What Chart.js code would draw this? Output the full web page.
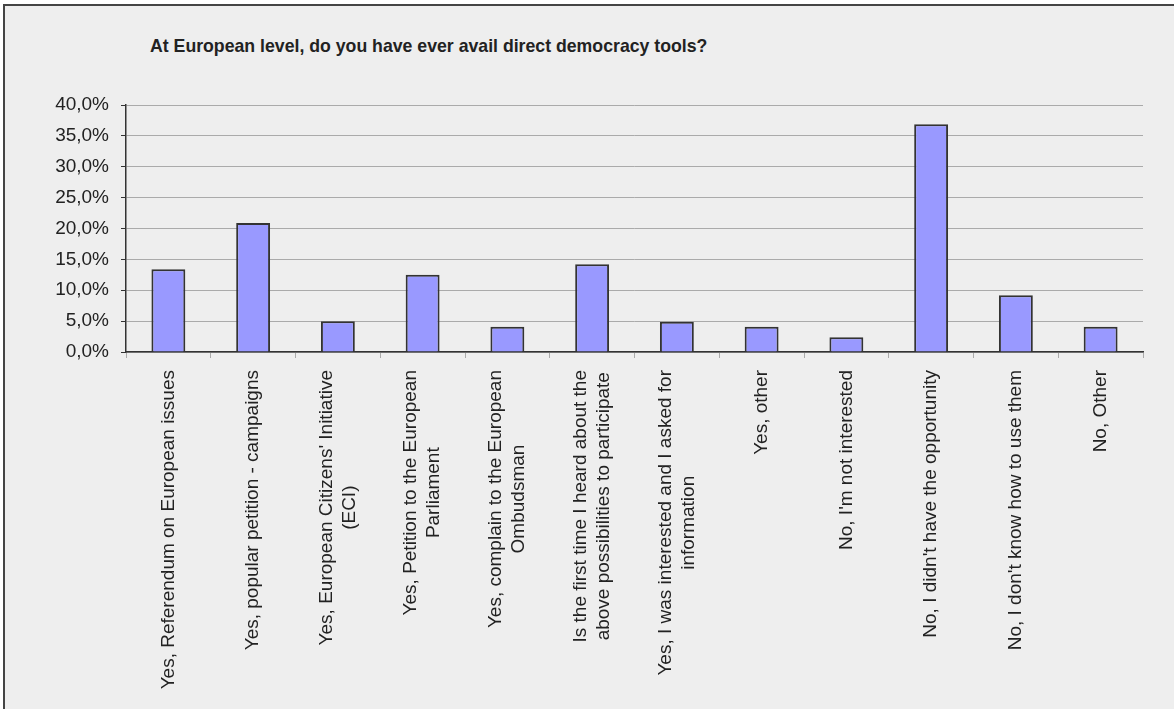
<!DOCTYPE html>
<html>
<head>
<meta charset="utf-8">
<script src="https://cdn.jsdelivr.net/npm/chart.js@4/dist/chart.umd.min.js"></script>
<style>
    html, body { margin: 0; padding: 0; background: #ffffff; }
    body { width: 1174px; height: 709px; overflow: hidden; position: relative; }
    .frame {
        position: absolute; left: 3px; top: 4px; right: -10px; bottom: -10px;
        background: #eeeeee;
        border-top: 2px solid #444444;
        border-left: 2px solid #444444;
    }
    .title {
        position: absolute; left: 150px; top: 36px;
        font: bold 17.7px "Liberation Sans", Arial, sans-serif;
        color: #222222;
    }
    .chart-box { position: absolute; left: 0; top: 0; width: 1174px; height: 709px; }
</style>
</head>
<body>
<div class="frame"></div>
<div class="title">At European level, do you have ever avail direct democracy tools?</div>
<div class="chart-box"><canvas id="chart"></canvas></div>
<script>
// Categories (answers) and share of respondents (%)
const categories = [
    "Yes, Referendum on European issues",
    "Yes, popular petition - campaigns",
    ["Yes, European Citizens' Initiative", "(ECI)"],
    ["Yes, Petition to the European", "Parliament"],
    ["Yes, complain to the European", "Ombudsman"],
    ["Is the first time I heard about the", "above possibilities to participate"],
    ["Yes, I was interested and I asked for", "information"],
    "Yes, other",
    "No, I'm not interested",
    "No, I didn't have the opportunity",
    "No, I don't know how to use them",
    "No, Other"
];
const shares = [13.4, 20.9, 5.0, 12.5, 4.1, 14.2, 4.9, 4.1, 2.4, 36.9, 9.2, 4.1];

// Y axis ticks
const yMin = 0;
const yMax = 40;
const yStep = 5;

const fontFamily = '"Liberation Sans", Arial, sans-serif';
const fontSize = 19;

function pct(v) {
    return v.toFixed(1).replace('.', ',') + '%';
}

// Center multi-line rotated x labels on their tick, lines centered on each other
const centerLabels = {
    id: 'centerLabels',
    beforeDraw(chart) {
        const scale = chart.scales.x;
        const items = scale.getLabelItems();
        const ctx = chart.ctx;
        items.forEach(item => {
            const lines = Array.isArray(item.label) ? item.label : [item.label];
            ctx.save();
            ctx.font = item.font.string;
            const widest = Math.max(...lines.map(l => ctx.measureText(l).width));
            ctx.restore();
            const lh = item.font.lineHeight;
            const tr = item.options.translation;
            item.options.translation = [
                tr[0] - (lines.length - 1) * lh / 2,
                tr[1] + widest / 2
            ];
            item.options.textAlign = 'center';
        });
    }
};

const config = {
    type: 'bar',
    data: {
        labels: categories,
        datasets: [{
            data: shares,
            backgroundColor: '#9999ff',
            borderColor: '#333333',
            borderWidth: 2,
            barPercentage: 0.4,
            categoryPercentage: 1.0
        }]
    },
    options: {
        responsive: false,
        animation: false,
        devicePixelRatio: 1,
        layout: { padding: { left: 0, right: 31, top: 105, bottom: 0 } },
        plugins: {
            legend: { display: false },
            tooltip: { enabled: false }
        },
        scales: {
            x: {
                grid: {
                    offset: true,
                    drawOnChartArea: false,
                    drawTicks: true,
                    tickLength: 6,
                    tickColor: '#aaaaaa',
                    lineWidth: 1
                },
                border: { color: '#333333', width: 1.5 },
                ticks: {
                    autoSkip: false,
                    maxRotation: 90,
                    minRotation: 90,
                    padding: 12,
                    color: '#222222',
                    font: { family: fontFamily, size: fontSize, lineHeight: 1.2 }
                },
                afterFit: scale => { scale.height = 709 - 352; }
            },
            y: {
                min: yMin,
                max: yMax,
                grid: {
                    color: '#aaaaaa',
                    lineWidth: 1,
                    tickLength: 5,
                    tickColor: '#333333'
                },
                border: { color: '#333333', width: 1.5 },
                ticks: {
                    stepSize: yStep,
                    padding: 12,
                    color: '#222222',
                    font: { family: fontFamily, size: fontSize },
                    callback: value => pct(value)
                },
                afterFit: scale => { scale.width = 126; }
            }
        }
    },
    plugins: [centerLabels]
};

const canvas = document.getElementById('chart');
canvas.width = 1174;
canvas.height = 709;
const chart = new Chart(canvas, config);
</script>
</body>
</html>
